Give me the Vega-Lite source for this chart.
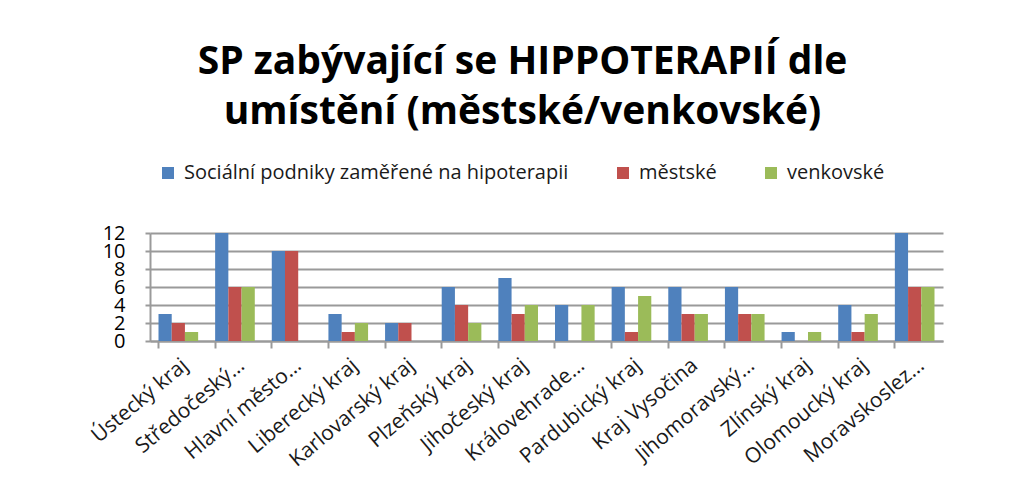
{
  "$schema": "https://vega.github.io/schema/vega-lite/v6.json",
  "width": 793,
  "height": 108,
  "autosize": {"type": "none"},
  "padding": {"left": 150, "top": 233, "right": 81, "bottom": 154},
  "background": "white",
  "title": {
    "text": ["SP zabývající se HIPPOTERAPIÍ dle", "umístění (městské/venkovské)"],
    "font": "Open Sans",
    "fontSize": 39,
    "fontWeight": "bold",
    "color": "#000000",
    "anchor": "middle",
    "dx": -24,
    "lineHeight": 50,
    "offset": 31
  },
  "data": {
    "values": [
      {"kraj": "Ústecký kraj", "serie": "Sociální podniky zaměřené na hipoterapii", "hodnota": 3},
      {"kraj": "Ústecký kraj", "serie": "městské", "hodnota": 2},
      {"kraj": "Ústecký kraj", "serie": "venkovské", "hodnota": 1},
      {"kraj": "Středočeský…", "serie": "Sociální podniky zaměřené na hipoterapii", "hodnota": 12},
      {"kraj": "Středočeský…", "serie": "městské", "hodnota": 6},
      {"kraj": "Středočeský…", "serie": "venkovské", "hodnota": 6},
      {"kraj": "Hlavní město…", "serie": "Sociální podniky zaměřené na hipoterapii", "hodnota": 10},
      {"kraj": "Hlavní město…", "serie": "městské", "hodnota": 10},
      {"kraj": "Hlavní město…", "serie": "venkovské", "hodnota": 0},
      {"kraj": "Liberecký kraj", "serie": "Sociální podniky zaměřené na hipoterapii", "hodnota": 3},
      {"kraj": "Liberecký kraj", "serie": "městské", "hodnota": 1},
      {"kraj": "Liberecký kraj", "serie": "venkovské", "hodnota": 2},
      {"kraj": "Karlovarský kraj", "serie": "Sociální podniky zaměřené na hipoterapii", "hodnota": 2},
      {"kraj": "Karlovarský kraj", "serie": "městské", "hodnota": 2},
      {"kraj": "Karlovarský kraj", "serie": "venkovské", "hodnota": 0},
      {"kraj": "Plzeňský kraj", "serie": "Sociální podniky zaměřené na hipoterapii", "hodnota": 6},
      {"kraj": "Plzeňský kraj", "serie": "městské", "hodnota": 4},
      {"kraj": "Plzeňský kraj", "serie": "venkovské", "hodnota": 2},
      {"kraj": "Jihočeský kraj", "serie": "Sociální podniky zaměřené na hipoterapii", "hodnota": 7},
      {"kraj": "Jihočeský kraj", "serie": "městské", "hodnota": 3},
      {"kraj": "Jihočeský kraj", "serie": "venkovské", "hodnota": 4},
      {"kraj": "Královehrade…", "serie": "Sociální podniky zaměřené na hipoterapii", "hodnota": 4},
      {"kraj": "Královehrade…", "serie": "městské", "hodnota": 0},
      {"kraj": "Královehrade…", "serie": "venkovské", "hodnota": 4},
      {"kraj": "Pardubický kraj", "serie": "Sociální podniky zaměřené na hipoterapii", "hodnota": 6},
      {"kraj": "Pardubický kraj", "serie": "městské", "hodnota": 1},
      {"kraj": "Pardubický kraj", "serie": "venkovské", "hodnota": 5},
      {"kraj": "Kraj Vysočina", "serie": "Sociální podniky zaměřené na hipoterapii", "hodnota": 6},
      {"kraj": "Kraj Vysočina", "serie": "městské", "hodnota": 3},
      {"kraj": "Kraj Vysočina", "serie": "venkovské", "hodnota": 3},
      {"kraj": "Jihomoravský…", "serie": "Sociální podniky zaměřené na hipoterapii", "hodnota": 6},
      {"kraj": "Jihomoravský…", "serie": "městské", "hodnota": 3},
      {"kraj": "Jihomoravský…", "serie": "venkovské", "hodnota": 3},
      {"kraj": "Zlínský kraj", "serie": "Sociální podniky zaměřené na hipoterapii", "hodnota": 1},
      {"kraj": "Zlínský kraj", "serie": "městské", "hodnota": 0},
      {"kraj": "Zlínský kraj", "serie": "venkovské", "hodnota": 1},
      {"kraj": "Olomoucký kraj", "serie": "Sociální podniky zaměřené na hipoterapii", "hodnota": 4},
      {"kraj": "Olomoucký kraj", "serie": "městské", "hodnota": 1},
      {"kraj": "Olomoucký kraj", "serie": "venkovské", "hodnota": 3},
      {"kraj": "Moravskoslez…", "serie": "Sociální podniky zaměřené na hipoterapii", "hodnota": 12},
      {"kraj": "Moravskoslez…", "serie": "městské", "hodnota": 6},
      {"kraj": "Moravskoslez…", "serie": "venkovské", "hodnota": 6}
    ]
  },
  "mark": {"type": "bar", "stroke": null},
  "encoding": {
    "x": {
      "field": "kraj",
      "type": "nominal",
      "sort": null,
      "title": null,
      "scale": {"paddingInner": 0.3, "paddingOuter": 0.15},
      "axis": {
        "labelAngle": -40,
        "labelFont": "Open Sans",
        "labelFontSize": 21,
        "labelColor": "#1a1a1a",
        "labelPadding": 6,
        "labelLimit": 300,
        "labelOverlap": false,
        "bandPosition": 0,
        "domainColor": "#9a9a9a",
        "domainWidth": 2,
        "tickColor": "#9a9a9a",
        "tickWidth": 2,
        "tickSize": 7,
        "grid": false
      }
    },
    "xOffset": {"field": "serie", "type": "nominal", "sort": null, "scale": {"paddingInner": 0}},
    "y": {
      "field": "hodnota",
      "type": "quantitative",
      "title": null,
      "scale": {"domain": [0, 12], "nice": false},
      "axis": {
        "values": [0, 2, 4, 6, 8, 10, 12],
        "labelOverlap": false,
        "labelFont": "Open Sans",
        "labelFontSize": 20,
        "labelColor": "#000000",
        "labelPadding": 20,
        "domainColor": "#9a9a9a",
        "domainWidth": 2,
        "tickColor": "#9a9a9a",
        "tickWidth": 2,
        "tickSize": 5,
        "gridColor": "#9a9a9a",
        "gridWidth": 2
      }
    },
    "color": {
      "field": "serie",
      "type": "nominal",
      "sort": null,
      "scale": {
        "domain": ["Sociální podniky zaměřené na hipoterapii", "městské", "venkovské"],
        "range": ["#4F81BD", "#C0504D", "#9BBB59"]
      },
      "legend": {
        "title": null,
        "orient": "none",
        "legendX": 8,
        "legendY": -70,
        "direction": "horizontal",
        "symbolType": "square",
        "symbolSize": 144,
        "symbolStrokeWidth": 0,
        "labelFont": "Open Sans",
        "labelFontSize": 20,
        "labelLimit": 500,
        "labelColor": "#1a1a1a",
        "columnPadding": 44,
        "labelOffset": 6
      }
    }
  },
  "config": {"view": {"stroke": null}}
}
